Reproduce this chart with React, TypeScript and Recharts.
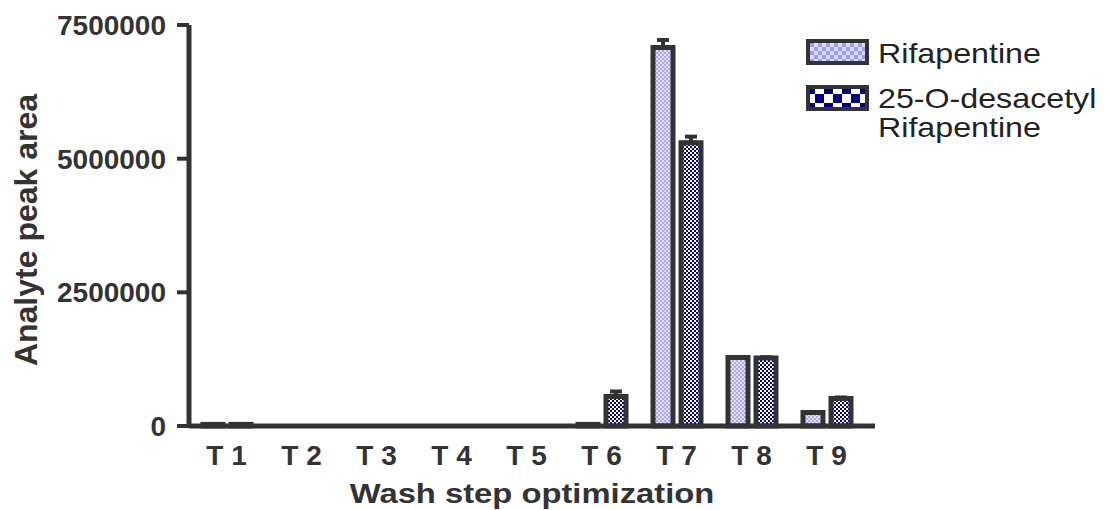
import { BarChart, Bar, XAxis, YAxis, ErrorBar, Label } from 'recharts';

const categories = ['T 1', 'T 2', 'T 3', 'T 4', 'T 5', 'T 6', 'T 7', 'T 8', 'T 9'];
const rifapentine = [30000, 0, 0, 0, 0, 30000, 7080000, 1280000, 252000];
const desacetyl = [30000, 0, 0, 0, 0, 552000, 5300000, 1272000, 514000];
const rifapentineErr = [0, 0, 0, 0, 0, 0, 140000, 0, 0];
const desacetylErr = [0, 0, 0, 0, 0, 94000, 112000, 15000, 20000];
const yTicks = [0, 2500000, 5000000, 7500000];
const seriesNames = ['Rifapentine', '25-O-desacetyl Rifapentine'];

const data = categories.map((name, i) => ({
  name,
  rif: rifapentine[i],
  des: desacetyl[i],
  rifErr: [0, rifapentineErr[i]],
  desErr: [0, desacetylErr[i]],
}));

const FONT = '"Liberation Sans", Arial, sans-serif';
const INK = '#333';

function LegendBox() {
  const swatch = (fill: string, top: number) => (
    <svg width={63} height={26} style={{ position: 'absolute', left: 0, top }}>
      <rect x={2} y={2} width={59} height={22} fill={fill} stroke={INK} strokeWidth={4} />
    </svg>
  );
  // the original text is drawn a little wide, so stretch it sideways
  const text = {
    position: 'absolute' as const,
    left: 72,
    fontFamily: FONT,
    fontSize: 28,
    lineHeight: '29px',
    color: '#222',
    whiteSpace: 'nowrap' as const,
    transform: 'scaleX(1.15)',
    transformOrigin: 'left top',
  };
  return (
    <div style={{ position: 'absolute', left: 806, top: 39, width: 299, height: 140 }}>
      <svg width={0} height={0} style={{ position: 'absolute' }}>
        <defs>
          <pattern id="rifLeg" width={8} height={8} patternUnits="userSpaceOnUse">
            <rect width={8} height={8} fill="#dadaff" />
            <rect width={4} height={4} fill="#9c9cf0" />
            <rect x={4} y={4} width={4} height={4} fill="#9c9cf0" />
          </pattern>
          <pattern id="desLeg" width={18} height={18} patternUnits="userSpaceOnUse">
            <rect width={18} height={18} fill="#fff" />
            <rect width={9} height={9} fill="#000080" />
            <rect x={9} y={9} width={9} height={9} fill="#000080" />
          </pattern>
        </defs>
      </svg>
      {swatch('url(#rifLeg)', 0)}
      <div style={{ ...text, top: 0 }}>{seriesNames[0]}</div>
      {swatch('url(#desLeg)', 46)}
      <div style={{ ...text, top: 45 }}>
        25-O-desacetyl
        <br />
        Rifapentine
      </div>
    </div>
  );
}

export default function App() {
  return (
    <div style={{ position: 'absolute', left: 0, top: 0, width: 1105, height: 510, background: '#fff' }}>
      <BarChart
        width={1105}
        height={510}
        data={data}
        margin={{ top: 25, right: 230, bottom: 0, left: 0 }}
        barSize={20}
        barGap={8}
      >
        <defs>
          <pattern id="rifPat" width={4} height={4} patternUnits="userSpaceOnUse">
            <rect width={4} height={4} fill="#e2e2ff" />
            <rect width={2} height={2} fill="#a8a8f0" />
            <rect x={2} y={2} width={2} height={2} fill="#a8a8f0" />
          </pattern>
          <pattern id="desPat" width={4} height={4} patternUnits="userSpaceOnUse">
            <rect width={4} height={4} fill="#fff" />
            <rect width={2} height={2} fill="#000080" />
            <rect x={2} y={2} width={2} height={2} fill="#000080" />
          </pattern>
        </defs>
        <XAxis
          dataKey="name"
          height={84}
          padding={{ left: 0, right: 11 }}
          tickLine={false}
          tickMargin={13}
          axisLine={{ stroke: INK, strokeWidth: 5 }}
          tick={{ fill: INK, fontSize: 28, fontWeight: 'bold', fontFamily: FONT }}
          interval={0}
        >
          <Label
            content={() => (
              <text transform="translate(532, 503) scale(1.17, 1)" textAnchor="middle" fill={INK} fontSize={28} fontWeight="bold" fontFamily={FONT}>
                Wash step optimization
              </text>
            )}
          />
        </XAxis>
        <YAxis
          width={189}
          domain={[0, 7500000]}
          ticks={yTicks}
          interval={0}
          tickSize={12}
          tickMargin={11}
          axisLine={{ stroke: INK, strokeWidth: 5 }}
          tickLine={{ stroke: INK, strokeWidth: 4 }}
          tick={{ fill: INK, fontSize: 28, fontWeight: 'bold', fontFamily: FONT }}
        >
          <Label
            content={() => (
              <text x={37} y={230} transform="rotate(-90, 37, 230)" textAnchor="middle" fill={INK} fontSize={32} fontWeight="bold" fontFamily={FONT}>
                Analyte peak area
              </text>
            )}
          />
        </YAxis>
        <Bar dataKey="rif" name={seriesNames[0]} fill="url(#rifPat)" stroke={INK} strokeWidth={5} isAnimationActive={false}>
          <ErrorBar dataKey="rifErr" direction="y" width={6} stroke={INK} strokeWidth={4} isAnimationActive={false} />
        </Bar>
        <Bar dataKey="des" name={seriesNames[1]} fill="url(#desPat)" stroke={INK} strokeWidth={5} isAnimationActive={false}>
          <ErrorBar dataKey="desErr" direction="y" width={6} stroke={INK} strokeWidth={4} isAnimationActive={false} />
        </Bar>
      </BarChart>
      <LegendBox />
    </div>
  );
}
